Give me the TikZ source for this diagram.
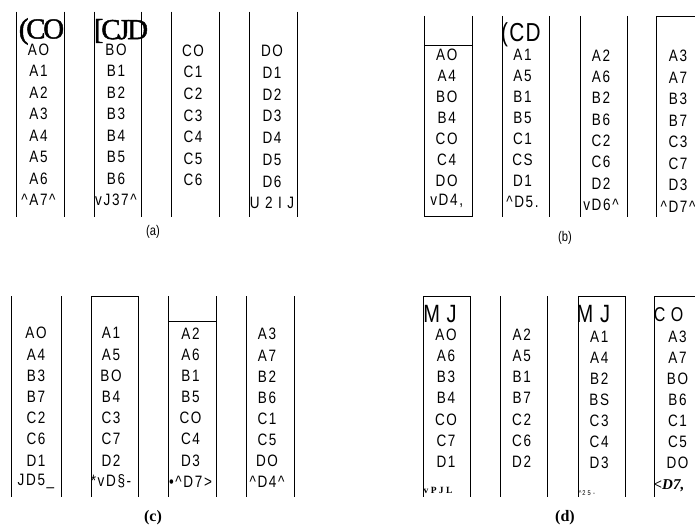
\documentclass[tikz,border=0pt]{standalone}
\usepackage{fontspec}
\newfontfamily\cellfont[FakeStretch=0.82,LetterSpace=10]{Liberation Sans}
\newfontfamily\bigsans[FakeStretch=0.8,LetterSpace=5]{Liberation Sans}
\newfontfamily\bigserif[LetterSpace=-8,FakeBold=1.5]{Liberation Serif}
\newfontfamily\capsans[FakeStretch=0.8]{Liberation Sans}
\newfontfamily\boldserif{Liberation Serif}
\newcommand\cellcolumn[5]{%
  \foreach \t [count=\i] in {#5} {%
    \node[cell] (#1\i) at (#2,{#3+(\i-1)*#4}) {\t};}}
\begin{document}
\begin{tikzpicture}[x=1pt,y=-1pt,
  cell/.style={font=\cellfont\fontsize{16.5}{16.5}\selectfont, inner sep=0pt, anchor=center},
  colline/.style={line width=0.9pt, black},
  bigtext/.style={inner sep=0pt, anchor=center},
  sublabel/.style={inner sep=0pt, font=\capsans\fontsize{14}{14}\selectfont},
  boldlabel/.style={inner sep=0pt, font=\boldserif\bfseries\fontsize{16}{16}\selectfont}]
\useasboundingbox (0,0) rectangle (695,527);
% ---------------- panel (a)
\foreach \xa/\xb in {16.7/64.3, 94.7/141.7, 171.7/219.3, 249.7/297.3}
  {\draw[colline] (\xa,11.7) -- (\xa,216.7); \draw[colline] (\xb,11.7) -- (\xb,216.7);}
\cellcolumn{aA}{38.5}{49.5}{21.5}{AO,A1,A2,A3,A4,A5,A6,\textasciicircum A7\textasciicircum}
\cellcolumn{aB}{116}{49.5}{21.5}{BO,B1,B2,B3,B4,B5,B6,vJ37\textasciicircum}
\cellcolumn{aC}{193}{50.7}{21.6}{CO,C1,C2,C3,C4,C5,C6}
\cellcolumn{aD}{272}{50.7}{21.8}{DO,D1,D2,D3,D4,D5,D6,U 2 I J}
\node[bigtext, font=\bigserif\fontsize{29}{29}\selectfont] (aT1) at (41.5,31.5) {(CO};
\node[bigtext, font=\bigserif\fontsize{29}{29}\selectfont] (aT2) at (121,31) {[CJD};
\node[sublabel] (la) at (153,232) {(a)};
% ---------------- panel (b)
\foreach \xa/\xb in {424.3/472.3, 502.7/549.3, 580.7/627.7}
  {\draw[colline] (\xa,16) -- (\xa,216.7); \draw[colline] (\xb,16) -- (\xb,216.7);}
\draw[colline] (424.3,45.3) -- (472.3,45.3);
\draw[colline] (424.3,216.7) -- (472.3,216.7);
\draw[colline] (700,16) -- (656.7,16) -- (656.7,216.7);
\cellcolumn{b1}{446.7}{55}{20.9}{AO,A4,BO,B4,CO,C4,DO,{vD4,}}
\cellcolumn{b2}{522.5}{55}{21.0}{A1,A5,B1,B5,C1,CS,D1,\textasciicircum D5.}
\cellcolumn{b3}{601}{55.5}{21.3}{A2,A6,B2,B6,C2,C6,D2,vD6\textasciicircum}
\cellcolumn{b4}{678}{56}{21.5}{A3,A7,B3,B7,C3,C7,D3,\textasciicircum D7\textasciicircum}
\node[bigtext, font=\bigsans\fontsize{26}{26}\selectfont] (bT) at (521,34.5) {(CD};
\node[sublabel] (lb) at (565,238) {(b)};
% ---------------- panel (c)
\foreach \xa/\xb in {11.7/61.7, 91.7/138.3, 168.3/216.7, 246.7/294.3}
  {\draw[colline] (\xa,296) -- (\xa,497.3); \draw[colline] (\xb,296) -- (\xb,497.3);}
\draw[colline] (91.7,296) -- (138.3,296);
\draw[colline] (168.3,321.7) -- (216.7,321.7);
\cellcolumn{c1}{36}{333.3}{21.2}{AO,A4,B3,B7,C2,C6,D1,JD5\_}
\cellcolumn{c2}{111}{333.3}{21.2}{A1,A5,BO,B4,C3,C7,D2,*vD§-}
\cellcolumn{c3}{190.5}{333.3}{21.2}{A2,A6,B1,B5,CO,C4,D3,•\textasciicircum D7>}
\cellcolumn{c4}{267}{334.3}{21.1}{A3,A7,B2,B6,C1,C5,DO,\textasciicircum D4\textasciicircum}
\node[boldlabel] (lc) at (153,518) {(c)};
% ---------------- panel (d)
\foreach \xa/\xb in {423.7/470.7, 500.7/547.3, 578.3/625.3}
  {\draw[colline] (\xa,296) -- (\xa,497.3); \draw[colline] (\xb,296) -- (\xb,497.3);}
\draw[colline] (423.7,296) -- (470.7,296);
\draw[colline] (578.3,296) -- (625.3,296);
\draw[colline] (700,296) -- (654.7,296) -- (654.7,497.3);
\cellcolumn{d1}{446}{335}{21.1}{AO,A6,B3,B4,CO,C7,D1}
\cellcolumn{d2}{521.7}{335}{21.1}{A2,A5,B1,B7,C2,C6,D2}
\cellcolumn{d3}{599.2}{336.7}{21.1}{A1,A4,B2,BS,C3,C4,D3}
\cellcolumn{d4}{677.5}{337.3}{21.0}{A3,A7,BO,B6,C1,C5,DO}
\node[bigtext, font=\bigsans\fontsize{25}{25}\selectfont] (dT1) at (440,314.5) {M J};
\node[bigtext, font=\bigsans\fontsize{25}{25}\selectfont] (dT3) at (593.3,314.5) {M J};
\node[bigtext, font=\bigsans\fontsize{20}{20}\selectfont] (dT4) at (668.5,315) {C O};
\node[bigtext, font=\boldserif\bfseries\fontsize{9.5}{9.5}\selectfont] (dB1) at (438,490.7) {v P J L};
\node[bigtext, font=\cellfont\fontsize{7}{7}\selectfont] (dB3) at (587,493) {\textasciicircum 2 5 -};
\node[bigtext, font=\boldserif\bfseries\itshape\fontsize{15}{15}\selectfont] (dB4) at (669,486) {<D7,};
\node[boldlabel] (ld) at (565,518) {(d)};
\end{tikzpicture}
\end{document}
